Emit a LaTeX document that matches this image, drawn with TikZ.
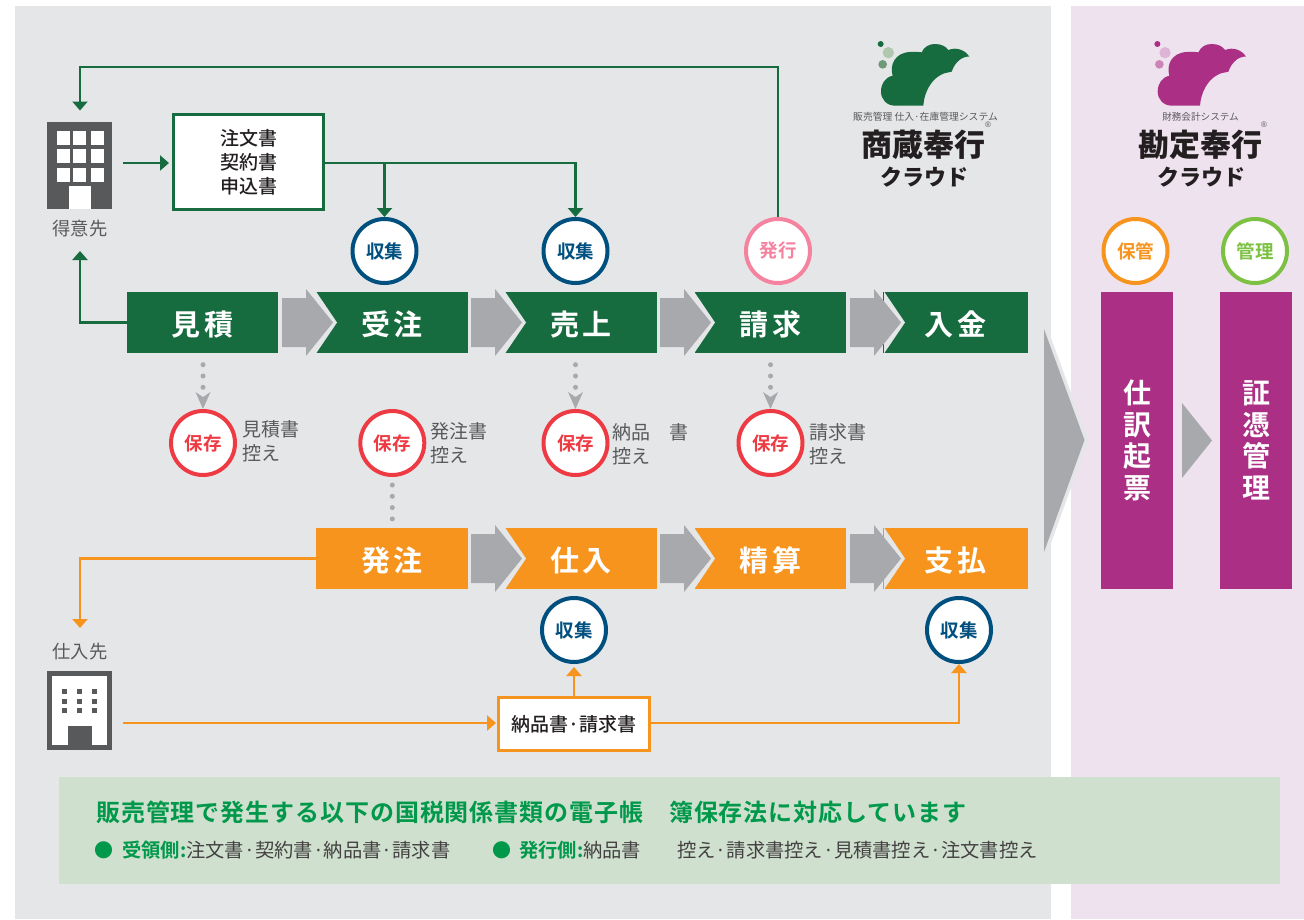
\documentclass[tikz,border=0pt]{standalone}
\usepackage{fontspec}
\setmainfont[BoldFont={Noto Sans CJK JP Bold}]{Noto Sans CJK JP}
\newfontfamily\blackf{Noto Sans CJK JP Black}
\newfontfamily\medf{Noto Sans CJK JP Medium}
\newfontfamily\regf{Liberation Sans}
\usetikzlibrary{arrows.meta,calc}
\definecolor{panelg}{HTML}{E5E6E8}
\definecolor{panelp}{HTML}{EEE2EF}
\definecolor{bandc}{HTML}{CFE0CE}
\definecolor{dgreen}{HTML}{166B3F}
\definecolor{orng}{HTML}{F7941E}
\definecolor{purp}{HTML}{AB3085}
\definecolor{arrg}{HTML}{A7A9AC}
\definecolor{navy}{HTML}{00507F}
\definecolor{redc}{HTML}{EE3A43}
\definecolor{pinkc}{HTML}{F583A0}
\definecolor{limec}{HTML}{7DC143}
\definecolor{darkg}{HTML}{58595B}
\definecolor{inkc}{HTML}{231F20}
\definecolor{titleg}{HTML}{00984A}
\definecolor{lgpale}{HTML}{B0C8AE}
\definecolor{lgmid}{HTML}{6F9A78}
\definecolor{lppale}{HTML}{DDB4D5}
\definecolor{lpmid}{HTML}{CC84B8}
\newcommand{\fsz}[1]{\fontsize{#1}{#1}\selectfont}
\tikzset{
  block/.style={rectangle,minimum width=#1,minimum height=61pt,inner sep=0pt,outer sep=0pt,text=white,
    text height=26pt,text depth=0pt,
    font=\bfseries\fsz{29}\addfontfeature{LetterSpace=13.8}},
  gblock/.style={block=#1,fill=dgreen},
  oblock/.style={block=#1,fill=orng},
  bar/.style={rectangle,fill=purp,minimum width=72pt,minimum height=297pt,inner sep=0pt,outer sep=0pt,text=white,align=center,
    font=\bfseries\fontsize{28}{31.7}\selectfont},
  badge/.style={circle,draw=#1,fill=white,line width=4pt,minimum size=64pt,inner sep=0pt,text=#1,font=\bfseries\fsz{18.5}},
  docbox/.style={rectangle,fill=white,draw=#1,line width=3pt,inner sep=0pt,outer sep=0pt,text=inkc,align=center},
  gline/.style={draw=dgreen,line width=2.8pt,-{Triangle[width=15pt,length=9pt]}},
  oline/.style={draw=orng,line width=2.8pt,-{Triangle[width=15pt,length=9pt]}},
  dotline/.style={draw=arrg,line width=5pt,line cap=round,dash pattern=on 0pt off 11.3pt},
  note/.style={anchor=west,inner sep=0pt,text=darkg,align=left,font=\fontsize{19}{24}\selectfont},
  captxt/.style={inner sep=0pt,text=darkg,font=\fsz{18.3}},
  flow/.style={fill=arrg},
  logosub/.style={inner sep=0pt,text=darkg,font=\fsz{#1}},
  logoreg/.style={inner sep=0pt,text=darkg,font=\regf\fsz{8}},
  logoname/.style={inner sep=0pt,text=inkc,font=\blackf\fsz{#1}},
}
% flow arrow: left x, centre y
\newcommand{\flowarrow}[2]{%
  \fill[panelg] (#1+34,#2-31) -- (#1+55,#2) -- (#1+34,#2+31) -- cycle;
  \fill[flow] (#1,#2-24.5) -- (#1+24,#2-24.5) -- (#1+24,#2-33.5) -- (#1+51,#2) -- (#1+24,#2+33.5) -- (#1+24,#2+24.5) -- (#1,#2+24.5) -- cycle;}
% logo
\newcommand{\logoshape}[4]{%
  \begin{scope}[shift={(#1,30)},scale=1/3]
  \fill[#2] (250,227) -- (165,227) .. controls (140,227) and (123,208) .. (123,185)
    .. controls (123,160) and (136,142) .. (158,137)
    .. controls (148,105) and (165,68) .. (210,66)
    .. controls (225,65) and (235,65) .. (245,67)
    .. controls (252,50) and (268,42) .. (285,42)
    .. controls (305,42) and (318,50) .. (325,60)
    .. controls (350,50) and (375,60) .. (388,80)
    .. controls (368,78) and (345,95) .. (335,125)
    .. controls (325,128) and (312,128) .. (302,135)
    .. controls (272,150) and (252,190) .. (250,227) -- cycle;
  \fill[#2] (122,42) circle (9);
  \fill[#3] (145,68) circle (17);
  \fill[#4] (128,103) circle (13);
  \end{scope}}
\begin{document}
\begin{tikzpicture}[x=1pt,y=-1pt]
\useasboundingbox (0,0) rectangle (1304,919);
\fill[white] (0,0) rectangle (1304,919);
\fill[panelg] (15,6) rectangle (1051,919);
\fill[panelp] (1071,6) rectangle (1304,919);
\fill[bandc] (59,777) rectangle (1280,884);

% logos
\logoshape{840}{dgreen}{lgpale}{lgmid}
\logoshape{1116.7}{purp}{lppale}{lpmid}
\node[logosub=9.8] (sub1) at (925.5,117) {販売管理 仕入·在庫管理システム};
\node[logoname=31] (name1) at (923,145) {商蔵奉行};
\node[logoname=22] (cloud1) at (924.5,177) {クラウド};
\node[logoreg] (reg1) at (988,125) {®};
\node[logosub=9.6] (sub2) at (1200.5,117) {財務会計システム};
\node[logoname=31] (name2) at (1200,145) {勘定奉行};
\node[logoname=22] (cloud2) at (1201.5,177) {クラウド};
\node[logoreg] (reg2) at (1264,125) {®};

% top row blocks
\node[gblock=151pt] (mitsumori) at (202.5,322.5) {見積};
\node[gblock=152pt] (juchu) at (392,322.5) {受注};
\node[gblock=152pt] (uriage) at (581,322.5) {売上};
\node[gblock=151pt] (seikyu) at (770.5,322.5) {請求};
\node[gblock=145pt] (nyukin) at (955.5,322.5) {入金};
\flowarrow{282}{322.5}\flowarrow{471}{322.5}\flowarrow{660}{322.5}\flowarrow{850}{322.5}

% bottom row blocks
\node[oblock=152pt] (hatchu) at (392,558.5) {発注};
\node[oblock=152pt] (shiire) at (581,558.5) {仕入};
\node[oblock=151pt] (seisan) at (770.5,558.5) {精算};
\node[oblock=145pt] (shiharai) at (955.5,558.5) {支払};
\flowarrow{471}{558.5}\flowarrow{660}{558.5}\flowarrow{850}{558.5}

% big arrow & small arrow
\draw[panelg,line width=7pt,line join=miter] (1044,329) -- (1084.5,440) -- (1044,552) -- cycle;
\fill[arrg] (1044,329) -- (1084.5,440) -- (1044,552) -- cycle;
\fill[arrg] (1182,403) -- (1212,440.5) -- (1182,478) -- cycle;

% bars
\node[bar] (shiwake) at (1137,440.5) {仕\\訳\\起\\票};
\node[bar] (shohyo) at (1256,440.5) {証\\憑\\管\\理};

% badges
\node[badge=navy] (col1) at (384.5,251) {収集};
\node[badge=navy] (col2) at (575.5,251) {収集};
\node[badge=pinkc] (issue) at (778,251) {発行};
\node[badge=orng] (keep) at (1135.5,251) {保管};
\node[badge=limec] (manage) at (1255,251) {管理};
\node[badge=redc] (sv1) at (203,443) {保存};
\node[badge=redc] (sv2) at (392.3,443) {保存};
\node[badge=redc] (sv3) at (575.5,443) {保存};
\node[badge=redc] (sv4) at (770.5,443) {保存};
\node[badge=navy] (col3) at (574,630) {収集};
\node[badge=navy] (col4) at (959,630) {収集};

% notes
\node[note] (n1) at (242,441.5) {見積書\\控え};
\node[note] (n2) at (430,443.5) {発注書\\控え};
\node[note] (n3) at (612,444.5) {納品　書\\控え};
\node[note] (n4) at (809,444) {請求書\\控え};

% buildings
\node[rectangle,fill=darkg,minimum width=65pt,minimum height=87pt,inner sep=0pt,outer sep=0pt] (tokui) at (79.8,165.4) {};
\foreach \wx in {56.7,73.3,90.7}
  \foreach \wy in {131,149.3,168.3}
    \fill[white] (\wx,\wy) rectangle ++(12.8,13.6);
\fill[white] (69.3,186) rectangle (91.3,209);
\node[captxt] (tokuil) at (80,229) {得意先};

\node[rectangle,fill=white,draw=darkg,line width=5pt,minimum width=60pt,minimum height=74pt,inner sep=0pt,outer sep=0pt] (shiiresaki) at (79.8,710.8) {};
\fill[darkg] (68.3,726) rectangle (91.7,746);
\foreach \wx in {62.3,77.3,92.3}
  \foreach \wy in {689.3,699,708.3}
    \fill[darkg] (\wx,\wy) rectangle ++(5,4.7);
\node[captxt] (shiirel) at (80,652) {仕入先};

% doc boxes
\node[docbox=dgreen,minimum width=150pt,minimum height=95pt,font=\medf\fontsize{19}{24}\selectfont] (orderdoc) at (248.5,162) {\raisebox{-1pt}{注文書}\\\raisebox{-1pt}{契約書}\\\raisebox{-1pt}{申込書}};
\node[docbox=orng,minimum width=151pt,minimum height=53pt,font=\medf\fsz{19}] (invdoc) at (574,724) {\raisebox{-1.5pt}{納品書·請求書}};

% named free points
\coordinate (topcorner) at (80,110.5);
\coordinate (tokuidown) at (80,251);
\coordinate (tokuiright) at (123,163);
\coordinate (shiireout) at (123,723);
\coordinate (shiireend) at (80,628);

% green connectors
\draw[gline] (issue.north) -- (778,67) -- (80,67) -- (topcorner);
\draw[gline] (mitsumori.west) -| (tokuidown);
\draw[gline,shorten >=4.5pt] (tokuiright) -- (orderdoc.west |- tokuiright);
\draw[gline] (orderdoc.east |- tokuiright) -| (col1.north);
\draw[gline] (orderdoc.east |- tokuiright) -| (col2.north);

% orange connectors
\draw[oline] (hatchu.west) -| (shiireend);
\draw[oline,shorten >=2.5pt] (shiireout) -- (invdoc.west |- shiireout);
\draw[oline,shorten >=3pt] (invdoc.north -| col3) -- (col3.south);
\draw[oline] (invdoc.east |- shiireout) -| (col4.south);

% dotted connectors
\draw[dotline] ($(mitsumori.south -| sv1)+(0,11.7)$) -- ($(sv1.north)+(0,-20)$);
\fill[arrg] (sv1.north) -- ++(-7.5,-17) -- ++(7.5,5) -- ++(7.5,-5) -- cycle;
\draw[dotline] ($(uriage.south -| sv3)+(0,11.7)$) -- ($(sv3.north)+(0,-20)$);
\fill[arrg] (sv3.north) -- ++(-7.5,-17) -- ++(7.5,5) -- ++(7.5,-5) -- cycle;
\draw[dotline] ($(seikyu.south -| sv4)+(0,11.7)$) -- ($(sv4.north)+(0,-20)$);
\fill[arrg] (sv4.north) -- ++(-7.5,-17) -- ++(7.5,5) -- ++(7.5,-5) -- cycle;
\draw[dotline] ($(sv2.south)+(0,8)$) -- ($(hatchu.north -| sv2)+(0,-8)$);

% band text
\node[anchor=west,inner sep=0pt,text=titleg,font=\bfseries\fsz{24}\addfontfeature{LetterSpace=3.8}] (bandtitle) at (96,812) {販売管理で発生する以下の国税関係書類の電子帳　簿保存法に対応しています};
\node[anchor=center,inner sep=0pt,text=titleg,font=\fsz{19}] (dot1) at (104,850) {●};
\node[anchor=west,inner sep=0pt,text=inkc!85!white,font=\fsz{19.3}] (recv) at (122,850) {\textcolor{titleg}{\bfseries 受領側:}注文書·契約書·納品書·請求書};
\node[anchor=center,inner sep=0pt,text=titleg,font=\fsz{19}] (dot2) at (502,850) {●};
\node[anchor=west,inner sep=0pt,text=inkc!85!white,font=\fsz{19.3}] (issued) at (519,850) {\textcolor{titleg}{\bfseries 発行側:}納品書\hspace{36pt}控え·請求書控え·見積書控え·注文書控え};
\end{tikzpicture}
\end{document}
